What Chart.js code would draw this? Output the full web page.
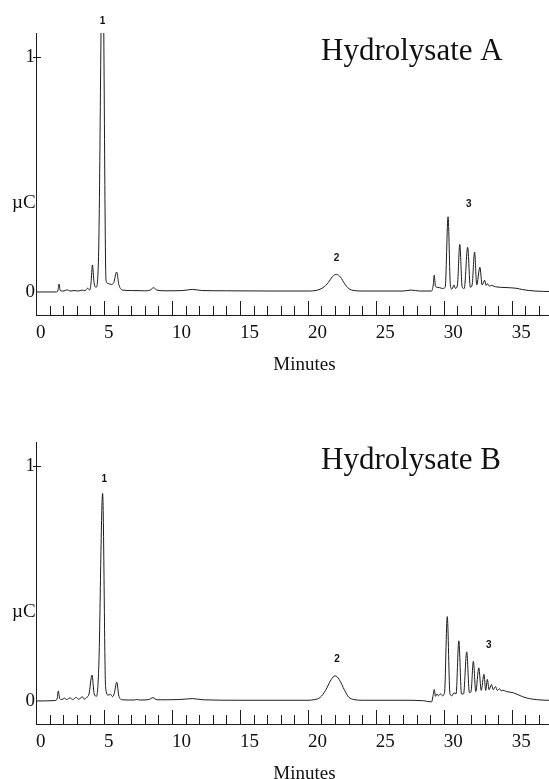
<!DOCTYPE html>
<html>
<head>
<meta charset="utf-8">
<script src="https://cdn.jsdelivr.net/npm/chart.js@4.4.1/dist/chart.umd.min.js"></script>
<style>
  html, body { margin: 0; padding: 0; background: #fff; overflow: hidden; }
  body { width: 549px; height: 779px; position: relative; }
  canvas { position: absolute; left: 0; }
  #chartA { top: 0; }
  #chartB { top: 409px; }
</style>
</head>
<body>
<canvas id="chartA" width="573" height="400"></canvas>
<canvas id="chartB" width="573" height="400"></canvas>
<script>
// tick labels
const minuteTicks = [0, 5, 10, 15, 20, 25, 30, 35];
const signalTicks = [0, 1];

// Hydrolysate A trace (minutes / µC)
const timeA = [
  0, 1.5, 1.62, 1.69, 1.78, 2.0, 2.3, 2.5, 2.8, 3.1, 3.4, 3.6, 3.8, 3.95,
  4.05, 4.15, 4.27, 4.42, 4.6, 4.9, 5.15, 5.3, 5.55, 5.72, 5.93, 6.1, 6.4,
  7.0, 8.0, 8.4, 8.65, 8.9, 9.5, 10.8, 11.5, 12.2, 14, 17, 20, 20.7, 21.1,
  21.5, 21.8, 22.1, 22.4, 22.7, 23.0, 23.4, 24, 27.0, 27.6, 28.2, 29.1,
  29.22, 29.29, 29.38, 29.5, 29.7, 29.9, 30.1, 30.31, 30.48, 30.6, 30.75,
  30.85, 31.0, 31.17, 31.35, 31.5, 31.75, 31.95, 32.08, 32.26, 32.42, 32.65,
  32.82, 33.0, 33.1, 33.2, 33.35, 33.5, 33.8, 34.5, 35.3, 35.8, 36.7, 38, 39.5,
];
const signalA = [
  0, 0, 0.008, 0.034, 0.006, 0.004, 0.009, 0.004, 0.006, 0.004, 0.008, 0.005, 0.016, 0.008,
  0.04, 0.115, 0.04, 0.02, 0.15, 1.5, 0.05, 0.036, 0.032, 0.04, 0.085, 0.03, 0.008,
  0.006, 0.005, 0.008, 0.018, 0.008, 0.005, 0.006, 0.011, 0.006, 0.005, 0.004, 0.004, 0.008, 0.018,
  0.04, 0.065, 0.075, 0.063, 0.035, 0.015, 0.006, 0.004, 0.004, 0.008, 0.004, 0.004,
  0.03, 0.072, 0.025, 0.02, 0.018, 0.015, 0.02, 0.32, 0.03, 0.012, 0.03,
  0.015, 0.03, 0.203, 0.02, 0.015, 0.19, 0.02, 0.03, 0.17, 0.03, 0.105,
  0.03, 0.05, 0.028, 0.035, 0.025, 0.028, 0.022, 0.019, 0.016, 0.01, 0.004, 0.002, 0.002,
];

// Hydrolysate B trace
const timeB = [
  0, 1.45, 1.56, 1.64, 1.74, 1.9, 2.1, 2.25, 2.5, 2.7, 2.95, 3.15, 3.4, 3.55,
  3.75, 3.9, 4.12, 4.28, 4.45, 4.62, 4.9, 5.12, 5.3, 5.5, 5.62, 5.75, 5.94,
  6.1, 6.35, 7.2, 7.4, 7.7, 8.3, 8.6, 8.9, 10.5, 11.5, 12.3, 15, 20, 20.5,
  20.9, 21.3, 21.7, 22.0, 22.3, 22.7, 23.0, 23.4, 24, 27, 28.5, 29.1, 29.2,
  29.3, 29.38, 29.5, 29.6, 29.75, 29.9, 30.05, 30.25, 30.45, 30.6, 30.75,
  30.9, 31.1, 31.3, 31.45, 31.68, 31.88, 32.0, 32.17, 32.35, 32.57, 32.75,
  32.95, 33.08, 33.2, 33.33, 33.5, 33.63, 33.8, 33.93, 34.1, 34.22, 34.35,
  34.6, 35.1, 35.8, 36.3, 36.8, 37.5, 39.5,
];
const signalB = [
  0, 0.002, 0.012, 0.042, 0.01, 0.006, 0.012, 0.006, 0.013, 0.006, 0.015, 0.007, 0.018, 0.008,
  0.016, 0.03, 0.11, 0.03, 0.02, 0.15, 0.883, 0.06, 0.025, 0.028, 0.018, 0.03, 0.08,
  0.02, 0.005, 0.004, 0.006, 0.004, 0.006, 0.014, 0.005, 0.006, 0.01, 0.005, 0.003, 0.003, 0.006,
  0.015, 0.045, 0.09, 0.107, 0.092, 0.045, 0.016, 0.006, 0.003, 0.003, 0.001, -0.004, 0.02,
  0.049, 0.02, 0.03, 0.022, 0.03, 0.022, 0.035, 0.359, 0.03, 0.022, 0.035,
  0.03, 0.256, 0.03, 0.03, 0.209, 0.035, 0.04, 0.169, 0.04, 0.141, 0.045,
  0.113, 0.045, 0.092, 0.048, 0.07, 0.048, 0.061, 0.045, 0.052, 0.043, 0.046,
  0.04, 0.035, 0.018, 0.01, 0.006, 0.003, 0.002,
];

// peak numbers: label, minutes, level in µC units
const peakNamesA = ["1", "2", "3"];
const peakTimesA = [4.9, 22.1, 31.83];
const peakLevelsA = [1.153, 0.143, 0.374];
const peakNamesB = ["1", "2", "3"];
const peakTimesB = [5.03, 22.14, 33.3];
const peakLevelsB = [0.943, 0.177, 0.238];

const SERIF = "'Liberation Serif', 'Times New Roman', serif";
const INK = "#1c1c1c";

// axis ticks, titles and peak numbers drawn on top
const chromDecor = {
  id: "chromDecor",
  afterDraw(chart, args, opts) {
    const { ctx, chartArea, scales } = chart;
    const xs = scales.x, ys = scales.y;
    ctx.save();
    ctx.strokeStyle = INK;
    ctx.lineWidth = 1;
    ctx.beginPath();
    for (let m = 0; m <= Math.floor(xs.max); m++) {
      const x = Math.round(xs.getPixelForValue(m)) + 0.5;
      const len = m % 5 === 0 ? 14 : 9;
      ctx.moveTo(x, chartArea.bottom);
      ctx.lineTo(x, chartArea.bottom - len);
    }
    const y1 = Math.round(ys.getPixelForValue(1)) + 0.5;
    ctx.moveTo(chartArea.left - 3, y1);
    ctx.lineTo(chartArea.left + 5, y1);
    ctx.stroke();

    ctx.fillStyle = "#111";
    ctx.textBaseline = "alphabetic";
    ctx.textAlign = "left";
    ctx.font = `31px ${SERIF}`;
    ctx.fillText(opts.title, 321, 60);
    ctx.font = `19px ${SERIF}`;
    ctx.fillText("µC", 12, 208);

    ctx.font = "bold 10px 'Liberation Sans', Arial, sans-serif";
    ctx.textAlign = "center";
    ctx.textBaseline = "middle";
    opts.names.forEach((n, i) => {
      ctx.fillText(n, xs.getPixelForValue(opts.times[i]), ys.getPixelForValue(opts.levels[i]));
    });
    ctx.restore();
  },
};

function makeChromatogram(id, times, values, title, names, ptimes, plevels) {
  const el = document.getElementById(id);
  return new Chart(el, {
    type: "line",
    data: {
      datasets: [{
        data: times.map((t, i) => ({ x: t, y: values[i] })),
        borderColor: INK,
        borderWidth: 1,
        pointRadius: 0,
        cubicInterpolationMode: "monotone",
        fill: false,
      }],
    },
    options: {
      responsive: false,
      animation: false,
      layout: { padding: { top: 33, right: 0, left: 0, bottom: 0 } },
      plugins: {
        legend: { display: false },
        tooltip: { enabled: false },
        chromDecor: { title, names, times: ptimes, levels: plevels },
      },
      scales: {
        x: {
          type: "linear",
          min: 0,
          max: 39.5,
          afterBuildTicks: (axis) => { axis.ticks = minuteTicks.map((v) => ({ value: v })); },
          afterFit: (axis) => { axis.height = 85; },
          grid: { display: false, drawTicks: false },
          border: { display: true, color: INK, width: 1 },
          ticks: {
            align: "start",
            autoSkip: false,
            maxRotation: 0,
            padding: 7,
            color: "#111",
            font: { family: SERIF, size: 19 },
          },
          title: {
            display: true,
            text: "Minutes",
            color: "#111",
            font: { family: SERIF, size: 19 },
            padding: { top: 0, bottom: 24 },
          },
        },
        y: {
          min: -0.098,
          max: 1.102,
          afterBuildTicks: (axis) => { axis.ticks = signalTicks.map((v) => ({ value: v })); },
          afterFit: (axis) => { axis.width = 36; },
          grid: { display: false, drawTicks: false },
          border: { display: true, color: INK, width: 1 },
          ticks: {
            padding: 1,
            color: "#111",
            font: { family: SERIF, size: 19 },
          },
        },
      },
    },
    plugins: [chromDecor],
  });
}

makeChromatogram("chartA", timeA, signalA, "Hydrolysate A", peakNamesA, peakTimesA, peakLevelsA);
makeChromatogram("chartB", timeB, signalB, "Hydrolysate B", peakNamesB, peakTimesB, peakLevelsB);
</script>
</body>
</html>
